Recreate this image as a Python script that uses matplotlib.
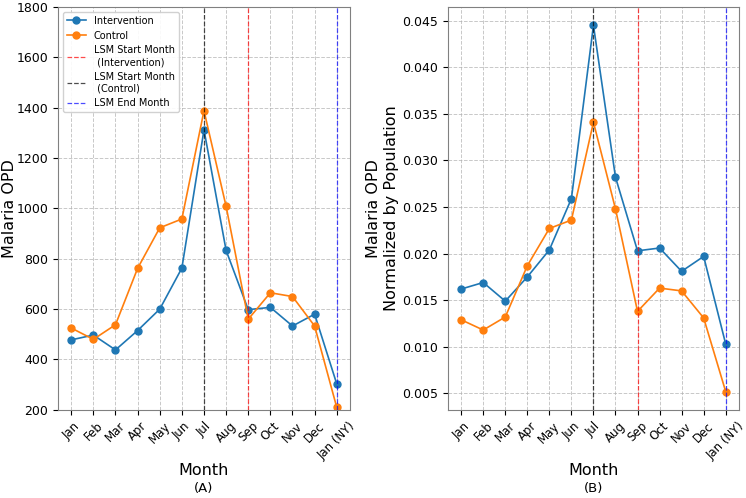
import matplotlib.pyplot as plt

months = ['Jan', 'Feb', 'Mar', 'Apr', 'May', 'Jun', 'Jul', 'Aug', 'Sep',
          'Oct', 'Nov', 'Dec', 'Jan (NY)']

# (A) raw malaria OPD counts
opd_intervention = [478, 497, 438, 515, 600, 763, 1312, 833, 598, 607, 533, 580, 303]
opd_control = [525, 480, 538, 762, 923, 958, 1388, 1008, 560, 665, 650, 533, 210]

# (B) normalized by population
norm_intervention = [0.0162, 0.0169, 0.0149, 0.0175, 0.0204, 0.0259, 0.0445,
                     0.0282, 0.0203, 0.0206, 0.0181, 0.0197, 0.0103]
norm_control = [0.0129, 0.0118, 0.0132, 0.0187, 0.0227, 0.0236, 0.0341,
                0.0248, 0.0138, 0.0163, 0.0160, 0.0131, 0.0052]

lsm_start_intervention = 'Sep'
lsm_start_control = 'Jul'
lsm_end = 'Jan (NY)'

fig = plt.figure(figsize=(7.46, 4.98), dpi=100)
ax1 = fig.add_axes([0.0777, 0.177, 0.3915, 0.809])
ax2 = fig.add_axes([0.6005, 0.177, 0.3900, 0.809])

x = list(range(len(months)))


def draw(ax, interv, ctrl, ylabel, tag, legend=False):
    ax.plot(x, interv, marker='o', markersize=5, linewidth=1.2,
            color='#1f77b4', label='Intervention')
    ax.plot(x, ctrl, marker='o', markersize=5, linewidth=1.2,
            color='#ff7f0e', label='Control')
    ax.axvline(months.index(lsm_start_intervention), color='red', linestyle='--',
               linewidth=0.9, alpha=0.7, label='LSM Start Month\n (Intervention)')
    ax.axvline(months.index(lsm_start_control), color='black', linestyle='--',
               linewidth=0.9, alpha=0.7, label='LSM Start Month\n (Control)')
    ax.axvline(months.index(lsm_end), color='blue', linestyle='--',
               linewidth=0.9, alpha=0.7, label='LSM End Month')
    ax.set_xticks(x)
    ax.set_xticklabels(months, rotation=45, fontsize=8.5)
    ax.tick_params(axis='y', labelsize=9)
    ax.grid(True, linestyle='--', color='#b0b0b0', alpha=0.7, linewidth=0.7)
    ax.set_xlabel('Month', fontsize=11.5)
    ax.xaxis.set_label_coords(0.5, -0.132)
    ax.text(0.5, -0.18, tag, transform=ax.transAxes, ha='center', va='top',
            fontsize=9.5)
    ax.set_ylabel(ylabel, fontsize=11.5)
    for s in ax.spines.values():
        s.set_color('#808080')
    if legend:
        ax.legend(loc='upper left', fontsize=7, framealpha=0.9)


draw(ax1, opd_intervention, opd_control, 'Malaria OPD', '(A)', legend=True)
ax1.set_ylim(200, 1800)
ax1.yaxis.set_label_coords(-0.14, 0.5)
draw(ax2, norm_intervention, norm_control,
     'Malaria OPD\nNormalized by Population', '(B)')
ax2.yaxis.set_label_coords(-0.17, 0.5)

fig.savefig('out.png', dpi=100)
